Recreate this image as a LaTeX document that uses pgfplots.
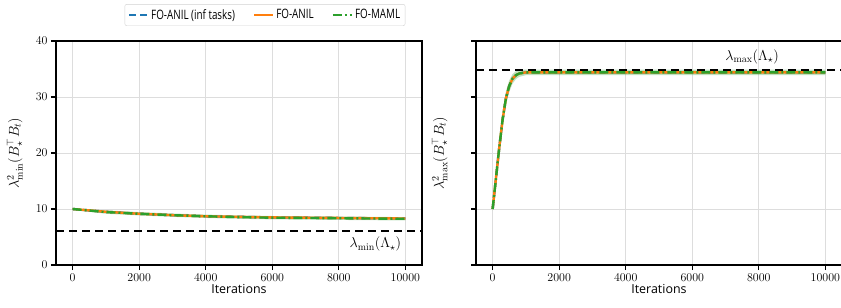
\documentclass[border=0pt]{standalone}
\usepackage[no-math]{fontspec}
\usepackage{amsmath,amssymb,graphicx}
\usepackage{pgfplots}
\pgfplotsset{compat=1.18}
\newfontfamily\osans{Open Sans}
\definecolor{tblue}{HTML}{1F77B4}
\definecolor{torange}{HTML}{FF7F0E}
\definecolor{tgreen}{HTML}{2CA02C}
\definecolor{gridc}{HTML}{DDDDDD}
\newcommand{\legtxt}[1]{\scalebox{0.76}[1]{#1}}

\pgfplotsset{
  myax/.style={
    scale only axis, width=366bp, height=224bp,
    xmin=-500, xmax=10500, ymin=0, ymax=40,
    xtick={0,2000,4000,6000,8000,10000},
    ytick={0,10,20,30,40},
    scaled x ticks=false,
    x tick label style={/pgf/number format/1000 sep={}},
    tick label style={font=\fontsize{13}{15}\selectfont},
    xtick pos=bottom, ytick pos=left, tick align=outside,
    major tick length=5bp,
    every tick/.style={black, line width=1.3bp},
    axis line style={line width=1.3bp},
    grid=major, major grid style={gridc, line width=0.8bp},
    xlabel={\osans Iterations},
    xlabel style={font=\fontsize{12.5}{14}\selectfont, yshift=4bp},
    ylabel style={font=\fontsize{14.5}{16}\selectfont, inner sep=1bp},
    clip=true,
  },
  bl/.style={tblue, line width=2.4bp, dash pattern=on 7bp off 4bp},
  ol/.style={torange, line width=2.4bp},
  gl/.style={tgreen, line width=2.4bp, dash pattern=on 9bp off 3bp on 2bp off 3bp},
}

\begin{document}
\begin{tikzpicture}
\useasboundingbox (0,0) rectangle (841bp,308bp);

% ---------------- left axis ----------------
\begin{axis}[myax, at={(56bp,43bp)}, anchor=south west,
  ylabel={$\lambda^2_{\min}(B_\star^\top B_t)$},
  ylabel style={at={(axis description cs:-0.088,0.5)}},
  legend style={at={(0.571,1.116)}, anchor=center, legend columns=3,
    draw=gray!35, rounded corners=2bp, inner xsep=3bp, inner ysep=3bp,
    font=\osans\fontsize{13}{15}\selectfont,
    /tikz/every even column/.append style={column sep=16bp}},
  legend image code/.code={\draw[#1] (0bp,0bp) -- (19bp,0bp);},
]
% bands
\addplot[fill=tgreen, fill opacity=0.3, draw=none, forget plot] coordinates {
(0,10.15) (1000,9.75) (2000,9.45) (3000,9.2) (4000,9.0) (5000,8.85) (6000,8.75) (7000,8.7) (8000,8.65) (9000,8.6) (10000,8.55)
(10000,7.95) (9000,8.0) (8000,8.05) (7000,8.1) (6000,8.15) (5000,8.25) (4000,8.4) (3000,8.6) (2000,8.85) (1000,9.15) (0,9.85)} -- cycle;
\addplot[fill=torange, fill opacity=0.25, draw=none, forget plot] coordinates {
(0,10.1) (1000,9.65) (2000,9.3) (3000,9.05) (4000,8.85) (5000,8.75) (6000,8.65) (7000,8.6) (8000,8.55) (9000,8.5) (10000,8.45)
(10000,8.15) (9000,8.2) (8000,8.25) (7000,8.3) (6000,8.35) (5000,8.45) (4000,8.55) (3000,8.75) (2000,9.0) (1000,9.35) (0,9.9)} -- cycle;
% lines
\addplot[bl] coordinates {(0,10) (1000,9.5) (2000,9.15) (3000,8.9) (4000,8.7) (5000,8.6) (6000,8.5) (7000,8.45) (8000,8.4) (9000,8.35) (10000,8.3)};
\addlegendentry{\legtxt{FO-ANIL (inf tasks)}}
\addplot[ol] coordinates {(0,10) (1000,9.5) (2000,9.15) (3000,8.9) (4000,8.7) (5000,8.6) (6000,8.5) (7000,8.45) (8000,8.4) (9000,8.35) (10000,8.3)};
\addlegendentry{\legtxt{FO-ANIL}}
\addplot[gl] coordinates {(0,10) (1000,9.45) (2000,9.15) (3000,8.9) (4000,8.7) (5000,8.55) (6000,8.45) (7000,8.4) (8000,8.35) (9000,8.3) (10000,8.25)};
\addlegendentry{\legtxt{FO-MAML}}
% reference line
\addplot[black, line width=2.4bp, dash pattern=on 8bp off 5bp, forget plot] coordinates {(-500,6.1) (10500,6.1)};
\node[font=\fontsize{14.5}{16}\selectfont] at (axis cs:9100,3.7) {$\lambda_{\min}(\Lambda_\star)$};
\end{axis}

% ---------------- right axis ----------------
\begin{axis}[myax, at={(476bp,43bp)}, anchor=south west,
  yticklabels={},
  ylabel={$\lambda^2_{\max}(B_\star^\top B_t)$},
  ylabel style={at={(axis description cs:-0.075,0.5)}},
]
\addplot[fill=tgreen, fill opacity=0.3, draw=none] coordinates {
(0,10.3) (100,16.2) (200,22.0) (300,27.2) (400,31.0) (500,33.0) (600,34.1) (700,34.6) (800,34.8) (1000,34.9) (2000,34.9) (4000,34.9) (6000,34.9) (8000,34.9) (10000,34.9)
(10000,33.9) (8000,33.9) (6000,33.9) (4000,33.9) (2000,33.9) (1000,33.9) (800,33.6) (700,33.2) (600,32.4) (500,30.9) (400,28.6) (300,24.8) (200,20.0) (100,14.8) (0,9.7)} -- cycle;
\addplot[bl] coordinates {(0,10) (100,15.5) (200,21) (300,26) (400,29.8) (500,32) (600,33.3) (700,33.9) (800,34.2) (1000,34.4) (2000,34.4) (4000,34.4) (6000,34.4) (8000,34.4) (10000,34.4)};
\addplot[ol] coordinates {(0,10) (100,15.5) (200,21) (300,26) (400,29.8) (500,32) (600,33.3) (700,33.9) (800,34.2) (1000,34.4) (2000,34.4) (4000,34.4) (6000,34.4) (8000,34.4) (10000,34.4)};
\addplot[gl] coordinates {(0,10) (100,15.5) (200,21) (300,26) (400,29.8) (500,32) (600,33.3) (700,33.9) (800,34.2) (1000,34.4) (2000,34.4) (4000,34.4) (6000,34.4) (8000,34.4) (10000,34.4)};
\addplot[black, line width=2.4bp, dash pattern=on 8bp off 5bp] coordinates {(-500,34.8) (10500,34.8)};
\node[font=\fontsize{14.5}{16}\selectfont] at (axis cs:7800,37.1) {$\lambda_{\max}(\Lambda_\star)$};
\end{axis}
\end{tikzpicture}
\end{document}
